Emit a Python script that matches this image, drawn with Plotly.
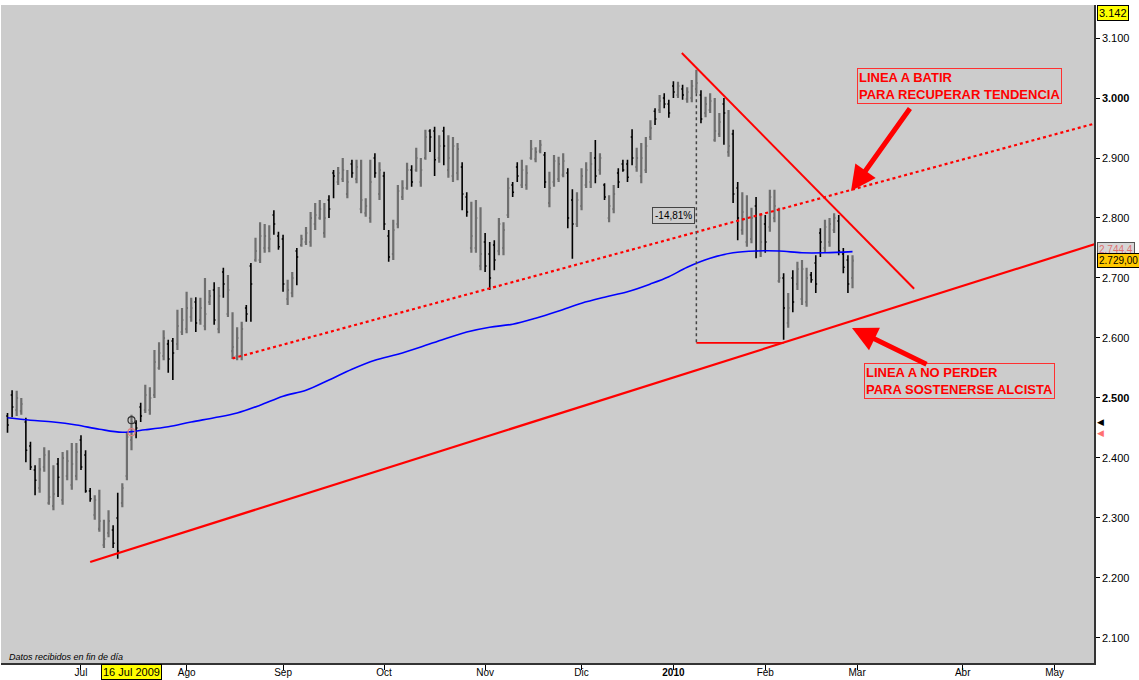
import pandas as pd
import plotly.graph_objects as go

# ---------------- data ----------------
holidays = ["2009-12-24", "2009-12-25", "2009-12-31", "2010-01-01",
            "2010-04-02", "2010-04-05"]
dates = [d.strftime("%Y-%m-%d") for d in pd.bdate_range("2009-06-09", "2010-02-26")
         if d.strftime("%Y-%m-%d") not in holidays]

highs = [
    2.475, 2.513, 2.512, 2.500, 2.467, 2.427, 2.388, 2.400, 2.418, 2.413, 2.388, 2.400, 2.410, 2.413, 2.425, 2.425,  # Jun
    2.438, 2.413, 2.350, 2.338, 2.347, 2.297, 2.313, 2.288, 2.342, 2.358, 2.443, 2.472, 2.463, 2.492, 2.522, 2.518,
    2.580, 2.593, 2.613, 2.597, 2.600, 2.647, 2.650,  # Jul
    2.677, 2.667, 2.668, 2.667, 2.700, 2.680, 2.693, 2.685, 2.717, 2.705, 2.643, 2.618, 2.627, 2.655, 2.725, 2.767,
    2.793, 2.790, 2.788, 2.813, 2.777,  # Aug
    2.772, 2.697, 2.710, 2.750, 2.772, 2.785, 2.810, 2.825, 2.830, 2.825, 2.838, 2.880, 2.885, 2.900, 2.880, 2.897,
    2.897, 2.897, 2.833, 2.897, 2.908, 2.893,  # Sep
    2.877, 2.780, 2.797, 2.855, 2.863, 2.892, 2.888, 2.917, 2.900, 2.947, 2.948, 2.952, 2.938, 2.952, 2.938, 2.935,
    2.925, 2.893, 2.843, 2.827, 2.830, 2.818,  # Oct
    2.775, 2.760, 2.763, 2.800, 2.793, 2.867, 2.860, 2.893, 2.897, 2.888, 2.930, 2.918, 2.930, 2.910, 2.877, 2.905,
    2.902, 2.908, 2.883, 2.848, 2.843,  # Nov
    2.883, 2.893, 2.910, 2.930, 2.908, 2.858, 2.838, 2.855, 2.883, 2.897, 2.897, 2.948, 2.917, 2.925, 2.935, 2.963,
    2.983, 3.005, 3.008, 2.997,  # Dec
    3.028, 3.027, 3.022, 3.018, 3.030, 3.047, 3.013, 3.002, 3.008, 3.000, 2.975, 3.000, 2.980, 2.947, 2.860, 2.843,
    2.838, 2.817, 2.835, 2.808,  # Jan
    2.805, 2.847, 2.847, 2.817, 2.708, 2.675, 2.713, 2.727, 2.730, 2.717, 2.710, 2.738, 2.783, 2.797, 2.800, 2.808,
    2.805, 2.750, 2.738, 2.738,  # Feb
]
lows = [
    2.442, 2.468, 2.470, 2.472, 2.393, 2.380, 2.338, 2.342, 2.377, 2.322, 2.313, 2.335, 2.322, 2.363, 2.347, 2.363,
    2.380, 2.342, 2.327, 2.297, 2.277, 2.250, 2.268, 2.250, 2.232, 2.318, 2.363, 2.413, 2.433, 2.460, 2.475, 2.472,
    2.500, 2.547, 2.563, 2.542, 2.530, 2.580, 2.605,
    2.608, 2.627, 2.610, 2.622, 2.613, 2.655, 2.622, 2.608, 2.667, 2.635, 2.565, 2.563, 2.563, 2.627, 2.627, 2.727,
    2.725, 2.742, 2.743, 2.772, 2.747,
    2.677, 2.655, 2.668, 2.688, 2.752, 2.755, 2.752, 2.780, 2.797, 2.767, 2.800, 2.833, 2.855, 2.860, 2.833, 2.867,
    2.858, 2.808, 2.802, 2.792, 2.867, 2.830,
    2.780, 2.727, 2.730, 2.783, 2.830, 2.847, 2.852, 2.877, 2.852, 2.897, 2.910, 2.870, 2.892, 2.888, 2.867, 2.860,
    2.863, 2.813, 2.802, 2.742, 2.742, 2.713,
    2.710, 2.680, 2.713, 2.738, 2.738, 2.800, 2.835, 2.860, 2.850, 2.847, 2.897, 2.893, 2.908, 2.850, 2.818, 2.852,
    2.860, 2.868, 2.783, 2.732, 2.785,
    2.813, 2.850, 2.850, 2.858, 2.872, 2.830, 2.793, 2.808, 2.850, 2.877, 2.860, 2.888, 2.877, 2.858, 2.875, 2.930,
    2.955, 2.975, 2.983, 2.967,
    3.000, 3.000, 2.997, 2.992, 2.993, 3.008, 2.958, 2.968, 2.975, 2.927, 2.935, 2.922, 2.902, 2.825, 2.763, 2.772,
    2.752, 2.758, 2.733, 2.735,
    2.742, 2.777, 2.793, 2.692, 2.597, 2.617, 2.643, 2.680, 2.655, 2.652, 2.692, 2.675, 2.735, 2.742, 2.752, 2.775,
    2.738, 2.708, 2.675, 2.683,
]
opens = [
    2.470, 2.505, 2.480, 2.478, 2.460, 2.420, 2.380, 2.350, 2.385, 2.325, 2.320, 2.390, 2.330, 2.370, 2.355, 2.370,
    2.430, 2.405, 2.345, 2.305, 2.282, 2.255, 2.275, 2.280, 2.300, 2.325, 2.370, 2.430, 2.458, 2.485, 2.480, 2.480,
    2.505, 2.550, 2.570, 2.590, 2.595, 2.590, 2.610,
    2.615, 2.635, 2.660, 2.630, 2.620, 2.660, 2.680, 2.615, 2.710, 2.640, 2.578, 2.570, 2.570, 2.650, 2.720, 2.730,
    2.730, 2.750, 2.750, 2.805, 2.770,
    2.765, 2.665, 2.675, 2.745, 2.755, 2.760, 2.760, 2.790, 2.800, 2.775, 2.830, 2.875, 2.860, 2.865, 2.840, 2.890,
    2.865, 2.815, 2.808, 2.800, 2.900, 2.840,
    2.870, 2.770, 2.740, 2.790, 2.835, 2.850, 2.880, 2.880, 2.860, 2.900, 2.945, 2.945, 2.900, 2.945, 2.880, 2.870,
    2.875, 2.885, 2.835, 2.750, 2.750, 2.720,
    2.760, 2.740, 2.755, 2.745, 2.750, 2.805, 2.855, 2.885, 2.855, 2.855, 2.900, 2.898, 2.912, 2.905, 2.825, 2.860,
    2.865, 2.872, 2.875, 2.830, 2.790,
    2.820, 2.855, 2.860, 2.900, 2.880, 2.855, 2.800, 2.815, 2.875, 2.890, 2.890, 2.935, 2.885, 2.870, 2.880, 2.935,
    2.978, 2.980, 3.000, 2.990,
    3.020, 3.005, 3.015, 2.998, 3.000, 3.015, 3.005, 2.975, 2.980, 2.930, 2.940, 2.990, 2.910, 2.940, 2.850, 2.780,
    2.760, 2.765, 2.820, 2.745,
    2.790, 2.785, 2.800, 2.695, 2.700, 2.625, 2.700, 2.690, 2.665, 2.660, 2.705, 2.725, 2.775, 2.750, 2.760, 2.780,
    2.795, 2.740, 2.730, 2.700,
]
closes = [
    2.455, 2.485, 2.500, 2.490, 2.413, 2.385, 2.363, 2.381, 2.405, 2.335, 2.340, 2.368, 2.400, 2.395, 2.390, 2.410,
    2.385, 2.345, 2.332, 2.330, 2.295, 2.265, 2.295, 2.258, 2.245, 2.350, 2.435, 2.460, 2.450, 2.470, 2.505, 2.500,
    2.560, 2.575, 2.600, 2.565, 2.575, 2.620, 2.630,
    2.650, 2.650, 2.625, 2.650, 2.640, 2.670, 2.630, 2.670, 2.690, 2.680, 2.585, 2.600, 2.615, 2.640, 2.690, 2.745,
    2.770, 2.770, 2.765, 2.790, 2.752,
    2.690, 2.680, 2.700, 2.735, 2.765, 2.775, 2.800, 2.805, 2.815, 2.800, 2.815, 2.870, 2.875, 2.880, 2.860, 2.875,
    2.885, 2.830, 2.820, 2.860, 2.875, 2.880,
    2.790, 2.735, 2.780, 2.845, 2.850, 2.880, 2.860, 2.900, 2.880, 2.935, 2.935, 2.897, 2.920, 2.920, 2.900, 2.920,
    2.915, 2.840, 2.810, 2.770, 2.800, 2.740,
    2.720, 2.700, 2.730, 2.790, 2.780, 2.850, 2.843, 2.870, 2.880, 2.875, 2.915, 2.910, 2.922, 2.860, 2.850, 2.895,
    2.890, 2.895, 2.800, 2.790, 2.830,
    2.870, 2.880, 2.890, 2.870, 2.900, 2.835, 2.820, 2.840, 2.860, 2.880, 2.868, 2.900, 2.900, 2.900, 2.920, 2.950,
    2.965, 2.995, 2.990, 2.975,
    3.010, 3.020, 3.005, 3.010, 3.020, 3.025, 2.965, 2.990, 2.995, 2.945, 2.960, 2.975, 2.920, 2.840, 2.800, 2.810,
    2.800, 2.800, 2.745, 2.760,
    2.760, 2.835, 2.820, 2.700, 2.650, 2.650, 2.660, 2.715, 2.715, 2.700, 2.697, 2.690, 2.760, 2.785, 2.790, 2.800,
    2.745, 2.718, 2.690, 2.729,
]

ma_dates = ["2009-06-09", "2009-06-16", "2009-06-23", "2009-06-30", "2009-07-07", "2009-07-14", "2009-07-21",
            "2009-07-28", "2009-08-04", "2009-08-11", "2009-08-18", "2009-08-25", "2009-09-01", "2009-09-08",
            "2009-09-15", "2009-09-22", "2009-09-29", "2009-10-06", "2009-10-13", "2009-10-20", "2009-10-27",
            "2009-11-03", "2009-11-10", "2009-11-17", "2009-11-24", "2009-12-01", "2009-12-08", "2009-12-15",
            "2009-12-22", "2009-12-30", "2010-01-07", "2010-01-14", "2010-01-21", "2010-01-28", "2010-02-04",
            "2010-02-11", "2010-02-18", "2010-02-26"]
ma_values = [2.467, 2.463, 2.460, 2.455, 2.448, 2.443, 2.447, 2.452, 2.460, 2.467, 2.475, 2.488, 2.503, 2.513,
             2.530, 2.548, 2.563, 2.573, 2.585, 2.598, 2.610, 2.618, 2.623, 2.633, 2.645, 2.658, 2.668, 2.677,
             2.690, 2.702, 2.718, 2.733, 2.742, 2.745, 2.745, 2.742, 2.742, 2.744]

tick_dates = ["2009-07-01", "2009-08-03", "2009-09-01", "2009-10-01", "2009-11-02", "2009-12-01",
              "2010-01-04", "2010-02-01", "2010-03-01", "2010-04-01", "2010-05-03"]
tick_text = ["Jul", "Ago", "Sep", "Oct", "Nov", "Dic", "<b>2010</b>", "Feb", "Mar", "Abr", "May"]

y_ticks = [2.1, 2.2, 2.3, 2.4, 2.5, 2.6, 2.7, 2.8, 2.9, 3.0, 3.1]
y_text = ["2.100", "2.200", "2.300", "2.400", "<b>2.500</b>", "2.600", "2.700", "2.800", "2.900",
          "<b>3.000</b>", "3.100"]

# trend lines (date, value) pairs
support_line = (("2009-07-03", 2.2267), ("2010-05-14", 2.757))
resist_line = (("2009-08-17", 2.566), ("2010-05-14", 2.958))
down_line = (("2010-01-05 20:00", 3.075), ("2010-03-17 10:00", 2.682))
low_level = (("2010-01-11", 2.592), ("2010-02-05", 2.592))
peak_drop = (("2010-01-11", 3.008), ("2010-01-11", 2.592))

last_close = 2.729
last_ma = 2.7444
axis_high = 3.142

# ---------------- figure ----------------
FONT = "Arial, Liberation Sans, sans-serif"
W, H = 1139, 680
L, R, T, B = 1, 45, 5, 17
PW, PH = W - L - R, H - T - B


def px(x):
    return (x - L) / PW


def py(y):
    return (H - B - y) / PH


fig = go.Figure()
fig.add_trace(go.Ohlc(
    x=dates, open=opens, high=highs, low=lows, close=closes,
    increasing=dict(line=dict(color="#6e6e6e", width=2.2)),
    decreasing=dict(line=dict(color="#000000", width=1.6)),
    tickwidth=0.3, hoverinfo="skip", showlegend=False,
))
fig.add_trace(go.Scatter(x=ma_dates, y=ma_values, mode="lines", line_shape="spline",
                         line=dict(color="#0000ff", width=1.6), hoverinfo="skip", showlegend=False))
fig.add_trace(go.Scatter(x=["2009-07-16", "2009-07-16"], y=[2.463, 2.443], mode="markers",
                         marker=dict(symbol="circle-open", size=7, color=["#333333", "#e08080"],
                                     line=dict(width=1.2)),
                         hoverinfo="skip", showlegend=False))

shapes = []
for (x0, y0), (x1, y1), dash, width, color in [
    (*support_line, "solid", 2.2, "#ff0000"),
    (*resist_line, "dot", 2.2, "#ff0000"),
    (*down_line, "solid", 2.0, "#ff0000"),
    (*low_level, "solid", 1.8, "#ff0000"),
    (*peak_drop, "dot", 1.5, "#444444"),
]:
    shapes.append(dict(type="line", xref="x", yref="y", x0=x0, y0=y0, x1=x1, y1=y1,
                       line=dict(color=color, width=width, dash=dash)))

annotations = [
    dict(xref="paper", yref="paper", x=px(857), y=py(68), xanchor="left", yanchor="top",
         text="<b>LINEA A BATIR<br>PARA RECUPERAR TENDENCIA</b>", align="left", showarrow=False,
         font=dict(family=FONT, size=13, color="#ff0000"), bordercolor="#ff3030", borderwidth=1,
         borderpad=1),
    dict(xref="paper", yref="paper", x=px(864), y=py(363), xanchor="left", yanchor="top",
         text="<b>LINEA A NO PERDER<br>PARA SOSTENERSE ALCISTA</b>", align="left", showarrow=False,
         font=dict(family=FONT, size=13, color="#ff0000"), bordercolor="#ff3030", borderwidth=1,
         borderpad=1),
    dict(xref="paper", yref="paper", x=px(851), y=py(191), ax=60, ay=-84, text="",
         showarrow=True, arrowhead=2, arrowsize=1.0, arrowwidth=5, arrowcolor="#ff0000"),
    dict(xref="paper", yref="paper", x=px(852), y=py(328), ax=76, ay=37, text="",
         showarrow=True, arrowhead=2, arrowsize=1.0, arrowwidth=5, arrowcolor="#ff0000"),
    dict(xref="paper", yref="paper", x=px(673), y=py(206.5), text="-14,81%", showarrow=False,
         font=dict(family=FONT, size=10, color="#000000"), bordercolor="#444444", borderwidth=1,
         borderpad=2, bgcolor="#cccccc"),
    dict(xref="paper", yref="paper", x=px(7), y=py(657), xanchor="left", yanchor="middle",
         text="<i>Datos recibidos en fin de día</i>", showarrow=False,
         font=dict(family=FONT, size=9, color="#000000")),
    dict(xref="x", yref="paper", x="2009-07-16", y=py(672), yanchor="middle",
         text="16 Jul 2009", showarrow=False, font=dict(family=FONT, size=11, color="#000000"),
         bgcolor="#ffff00", bordercolor="#000000", borderwidth=1, borderpad=1),
    dict(xref="paper", yref="y", x=px(1097), y=axis_high, xanchor="left", yanchor="middle",
         text="3.142", showarrow=False, font=dict(family=FONT, size=11, color="#000000"),
         bgcolor="#ffff00", bordercolor="#000000", borderwidth=1, borderpad=1),
    dict(xref="paper", yref="y", x=px(1097), y=last_ma + 0.003, xanchor="left", yanchor="middle",
         text="2.744,4", showarrow=False, font=dict(family=FONT, size=10, color="#e07070"),
         bgcolor="#d6d6d6", bordercolor="#555555", borderwidth=1, borderpad=1),
    dict(xref="paper", yref="y", x=px(1097), y=last_close, xanchor="left", yanchor="middle",
         text="2.729,00", showarrow=False, font=dict(family=FONT, size=10, color="#000000"),
         bgcolor="#ffc800", bordercolor="#000000", borderwidth=1, borderpad=1),
    dict(xref="paper", yref="y", x=px(1095), y=2.460, xanchor="left", yanchor="middle",
         text="◀", showarrow=False, font=dict(family=FONT, size=9, color="#000000")),
    dict(xref="paper", yref="y", x=px(1095), y=2.442, xanchor="left", yanchor="middle",
         text="◀", showarrow=False, font=dict(family=FONT, size=9, color="#ff7070")),
]

fig.update_layout(
    width=W, height=H,
    margin=dict(l=L, r=R, t=T, b=B, autoexpand=False),
    paper_bgcolor="#ffffff", plot_bgcolor="#cccccc",
    showlegend=False, hovermode=False,
    shapes=shapes, annotations=annotations,
    font=dict(family=FONT, size=11, color="#000000"),
    xaxis=dict(
        type="date", range=["2009-06-05 14:00", "2010-05-13 14:00"],
        rangebreaks=[dict(bounds=["sat", "mon"]), dict(values=holidays)],
        rangeslider=dict(visible=False),
        tickmode="array", tickvals=tick_dates, ticktext=tick_text,
        ticks="outside", ticklen=5, tickcolor="#000000", tickfont=dict(size=10),
        ticklabelstandoff=-6,
        showgrid=False, zeroline=False, showline=True, linecolor="#333333", linewidth=1.5,
        fixedrange=True,
    ),
    yaxis=dict(
        side="right", range=[2.0583, 3.1550],
        tickmode="array", tickvals=y_ticks, ticktext=y_text,
        ticks="outside", ticklen=4, tickcolor="#000000", tickfont=dict(size=11),
        showgrid=False, zeroline=False, showline=True, linecolor="#333333", linewidth=1.5,
        fixedrange=True,
    ),
)

fig.write_html("out.html", config={"displayModeBar": False},
               post_script="document.body.style.margin='0';document.body.style.overflow='hidden';")
